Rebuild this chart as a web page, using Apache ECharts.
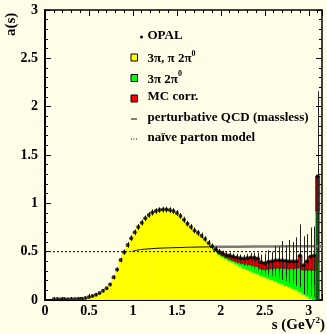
<!DOCTYPE html>
<html><head><meta charset="utf-8">
<script src="https://cdn.jsdelivr.net/npm/echarts@6/dist/echarts.min.js"></script>
<style>html,body{margin:0;padding:0;background:#fffde8}#c{width:327px;height:334px}</style>
</head><body><div id="c"></div>
<script>
// ---- data (s in GeV^2, bin centres, bin width 0.04) ----
const binCenters = [
 0.10,0.14,0.18,0.22,0.26,0.30,0.34,0.38,0.42,0.46,
 0.50,0.54,0.58,0.62,0.66,0.70,0.74,0.78,0.82,0.86,
 0.90,0.94,0.98,1.02,1.06,1.10,1.14,1.18,1.22,1.26,
 1.30,1.34,1.38,1.42,1.46,1.50,1.54,1.58,1.62,1.66,
 1.70,1.74,1.78,1.82,1.86,1.90,1.94,1.98,2.02,2.06,
 2.10,2.14,2.18,2.22,2.26,2.30,2.34,2.38,2.42,2.46,
 2.50,2.54,2.58,2.62,2.66,2.70,2.74,2.78,2.82,2.86,
 2.90,2.94,2.98,3.02,3.06,3.10];
const opal = [
 0.008,0.010,0.008,0.010,0.009,0.011,0.010,0.012,0.014,0.020,
 0.030,0.042,0.055,0.072,0.095,0.122,0.160,0.235,0.315,0.415,
 0.495,0.570,0.640,0.700,0.755,0.800,0.845,0.880,0.905,0.920,
 0.930,0.935,0.935,0.930,0.920,0.900,0.870,0.830,0.790,0.755,
 0.720,0.695,0.665,0.630,0.590,0.555,0.525,0.500,0.480,0.465,
 0.460,0.450,0.440,0.435,0.430,0.435,0.440,0.440,0.430,0.390,
 0.380,0.395,0.400,0.410,0.410,0.410,0.405,0.400,0.400,0.400,
 0.460,0.360,0.400,0.450,0.460,1.280];
const opalErr = [
 0.006,0.006,0.006,0.006,0.006,0.006,0.006,0.006,0.006,0.006,
 0.010,0.010,0.012,0.012,0.015,0.015,0.018,0.020,0.022,0.025,
 0.028,0.030,0.030,0.030,0.030,0.030,0.030,0.030,0.030,0.030,
 0.030,0.030,0.030,0.030,0.030,0.030,0.030,0.030,0.030,0.030,
 0.030,0.030,0.030,0.030,0.030,0.030,0.030,0.030,0.030,0.030,
 0.030,0.030,0.035,0.035,0.035,0.040,0.045,0.050,0.060,0.080,
 0.100,0.120,0.100,0.150,0.140,0.200,0.160,0.220,0.200,0.250,
 0.320,0.300,0.280,0.300,0.300,0.880];
const yellow3pi = [
 0.008,0.010,0.008,0.010,0.009,0.011,0.010,0.012,0.014,0.020,
 0.030,0.042,0.055,0.072,0.095,0.122,0.160,0.235,0.315,0.415,
 0.495,0.570,0.640,0.700,0.755,0.800,0.845,0.880,0.905,0.920,
 0.930,0.935,0.935,0.930,0.920,0.900,0.870,0.830,0.790,0.755,
 0.720,0.695,0.665,0.630,0.590,0.540,0.500,0.465,0.440,0.420,
 0.400,0.385,0.365,0.345,0.325,0.310,0.295,0.280,0.265,0.245,
 0.235,0.220,0.205,0.190,0.175,0.160,0.145,0.130,0.115,0.100,
 0.080,0.055,0.035,0.015,0.000,0.000];
const green3pi2pi0 = [
 0,0,0,0,0,0,0,0,0,0,
 0,0,0,0,0,0,0,0,0,0,
 0,0,0,0,0,0,0,0,0,0,
 0,0,0,0,0,0,0,0,0,0,
 0,0,0,0,0,0.010,0.015,0.020,0.020,0.020,
 0.025,0.025,0.030,0.040,0.050,0.060,0.070,0.075,0.080,0.080,
 0.080,0.100,0.120,0.140,0.155,0.170,0.180,0.195,0.210,0.230,
 0.250,0.255,0.275,0.295,0.310,0.920];
const mcCorr = [
 0,0,0,0,0,0,0,0,0,0,
 0,0,0,0,0,0,0,0,0,0,
 0,0,0,0,0,0,0,0,0,0,
 0,0,0,0,0,0,0,0,0,0,
 0,0,0,0,0,0.005,0.010,0.015,0.020,0.025,
 0.035,0.040,0.045,0.050,0.055,0.065,0.075,0.085,0.085,0.065,
 0.065,0.075,0.075,0.080,0.080,0.080,0.080,0.075,0.075,0.070,
 0.130,0.050,0.090,0.140,0.150,0.360];
const greenErr = [
 0,0,0,0,0,0,0,0,0,0,
 0,0,0,0,0,0,0,0,0,0,
 0,0,0,0,0,0,0,0,0,0,
 0,0,0,0,0,0,0,0,0,0,
 0,0,0,0,0,0,0,0,0,0,
 0.010,0.010,0.015,0.015,0.020,0.020,0.025,0.030,0.040,0.050,
 0.060,0.070,0.080,0.090,0.100,0.120,0.130,0.150,0.160,0.180,
 0.200,0.220,0.250,0.270,0.280,0];
const qcdS = [0.99,1.02,1.06,1.10,1.20,1.30,1.50,1.70,1.90,2.20,2.60,3.00,3.15];
const qcdA = [0.500,0.510,0.518,0.523,0.530,0.536,0.542,0.547,0.550,0.552,0.554,0.556,0.557];
const naiveS = [0, 3.15];
const naiveA = [0.5, 0.5];
const xTickLabels = ['0','0.5','1','1.5','2','2.5','3'];

// ---- chart ----
const HALF = 0.02;
const lastIdx = binCenters.length - 1;
const FONT = '"Liberation Serif","Times New Roman",serif';

const yellowData = binCenters.map((s,i)=>[s, 0, yellow3pi[i]]);
const greenData = binCenters.map((s,i)=>[s, yellow3pi[i], yellow3pi[i]+green3pi2pi0[i]]);
const redData = binCenters.map((s,i)=>[s, yellow3pi[i]+green3pi2pi0[i], yellow3pi[i]+green3pi2pi0[i]+mcCorr[i]]);
const greenErrData = binCenters.map((s,i)=>[s, yellow3pi[i]+green3pi2pi0[i], greenErr[i]]).filter((d,i)=>greenErr[i]>0);
const opalErrData = binCenters.map((s,i)=>[s, opal[i], opalErr[i]]);
const opalPts = binCenters.map((s,i)=>[s, opal[i]]);
const qcdBlack = qcdS.map((s,i)=>[s,qcdA[i]]).filter(d=>d[0]<=1.9);
const qcdGray = qcdS.map((s,i)=>[s,qcdA[i]]).filter(d=>d[0]>=1.9);
const naive = naiveS.map((s,i)=>[s,naiveA[i]]);

function boxSeries(name, data, fill, dark, stroke, z){
  return {type:'custom', name, z, data, encode:{x:0,y:[1,2]}, silent:true, clip:false,
    renderItem(params, api){
      const x=api.value(0), lo=api.value(1), hi=api.value(2);
      if(!(hi>lo)) return null;
      const a=api.coord([x-HALF,hi]), b=api.coord([x+HALF,lo]);
      const isLast = params.dataIndex===lastIdx;
      return {type:'rect', shape:{x:a[0]-0.3,y:a[1],width:b[0]-a[0]+0.6,height:b[1]-a[1]},
        style:{fill:isLast?dark:fill, stroke:stroke||null, lineWidth:stroke?0.6:0}};
    }};
}
// error bars: data items [s, centre, halfError]
function errSeries(name, data, color, width, z){
  return {type:'custom', name, z, data, encode:{x:0,y:1}, silent:true, clip:false,
    renderItem(params, api){
      const x=api.value(0), v=api.value(1), e=api.value(2);
      const a=api.coord([x,v-e]), b=api.coord([x,v+e]);
      const px=Math.round(a[0]);
      return {type:'rect', shape:{x:px-width/2+0.5, y:b[1], width:width, height:Math.max(a[1]-b[1],0.5)},
        style:{fill:color}};
    }};
}

const tickFont = {fontFamily:FONT, fontWeight:'bold', fontSize:14, color:'#000'};
function xAxisDef(pos, interval, len, showLine, showLabel){
  return {type:'value', min:0, max:3.15, interval, position:pos,
    axisLine:{show:showLine, onZero:false, lineStyle:{color:'#000', width:pos==='bottom'?2:1.5}},
    axisTick:{show:true, inside:true, length:len, lineStyle:{color:'#000', width:1}},
    axisLabel:{show:showLabel, margin:4, ...tickFont,
      formatter:v=>{const k=Math.round(v*2); return Math.abs(v*2-k)<1e-6 && k<=6 ? xTickLabels[k] : '';}},
    splitLine:{show:false}};
}
function yAxisDef(pos, showLabel){
  return {type:'value', min:0, max:3, interval:0.5, position:pos,
    axisLine:{show:true, onZero:false, lineStyle:{color:'#000', width:pos==='left'?2:1.5}},
    axisTick:{show:true, inside:true, length:6, lineStyle:{color:'#000', width:1}},
    minorTick:{show:true, splitNumber:5, length:3, lineStyle:{color:'#000', width:1}},
    axisLabel:{show:showLabel, margin:7, ...tickFont},
    splitLine:{show:false}};
}

const legendRows = [37, 57.5, 78, 98.5, 119, 139];
const LX = 131, TX = 147.5;
const legFont = {fontFamily:FONT, fontWeight:'bold', fontSize:13, fill:'#000'};
function legText(y, rich, text){
  return {type:'text', left:TX, top:y-8, silent:true,
    style:{text, ...legFont, rich}};
}
const supRich = {
  m:{fontFamily:FONT, fontWeight:'bold', fontSize:13, lineHeight:16, verticalAlign:'bottom'},
  s:{fontFamily:FONT, fontWeight:'bold', fontSize:8, lineHeight:16, verticalAlign:'top'}
};

const option = {
  backgroundColor:'#fffde8',
  animation:false,
  grid:{left:45, right:5, top:10, bottom:34, containLabel:false, outerBoundsMode:'none'},
  xAxis:[
    xAxisDef('bottom',0.5,6,true,true),
    xAxisDef('bottom',0.1,3,false,false),
    xAxisDef('top',0.5,6,true,false),
    xAxisDef('top',0.1,3,false,false)
  ],
  yAxis:[ yAxisDef('left',true), yAxisDef('right',false) ],
  series:[
    boxSeries('3π, π 2π0', yellowData, '#ffff00', '#ffff00', null, 1),
    boxSeries('3π 2π0', greenData, '#00ff00', '#0b5e0b', null, 2),
    errSeries('3π 2π0 err', greenErrData, '#0a7a0a', 1, 3),
    boxSeries('MC corr.', redData, '#ee0000', '#7a0a0a', '#600000', 4),
    {type:'line', name:'naive', data:naive, z:5, showSymbol:false, silent:true,
      lineStyle:{color:'#000', width:1, type:[2,2]}},
    {type:'line', name:'pQCD', data:qcdGray, z:5, showSymbol:false, smooth:true, silent:true,
      lineStyle:{color:'#7a7a72', width:2.5}},
    {type:'line', name:'pQCD', data:qcdBlack, z:5, showSymbol:false, smooth:true, silent:true,
      lineStyle:{color:'#000', width:1}},
    errSeries('OPAL err', opalErrData, '#222', 1, 6),
    {type:'scatter', name:'OPAL', data:opalPts, z:7, symbol:'circle', symbolSize:4, silent:true,
      itemStyle:{color:'#000'}}
  ],
  graphic:[
    {type:'text', silent:true, x:4, y:36, rotation:Math.PI/2,
      style:{text:'a(s)', fontFamily:FONT, fontWeight:'bold', fontSize:15, fill:'#000'}},
    {type:'text', silent:true, right:2, bottom:1,
      style:{text:'{m|s (GeV}{s|2}{m|)}', rich:{
        m:{fontFamily:FONT, fontWeight:'bold', fontSize:15, lineHeight:17, verticalAlign:'bottom'},
        s:{fontFamily:FONT, fontWeight:'bold', fontSize:9, lineHeight:17, verticalAlign:'top'}}}},
    // legend symbols
    {type:'circle', silent:true, shape:{cx:141.5, cy:legendRows[0], r:1.5}, style:{fill:'#000'}},
    {type:'rect', silent:true, shape:{x:LX, y:legendRows[1]-3.5, width:6.5, height:7}, style:{fill:'#ffff00', stroke:'#000', lineWidth:1}},
    {type:'rect', silent:true, shape:{x:LX, y:legendRows[2]-3.5, width:6.5, height:7}, style:{fill:'#00ff00', stroke:'#000', lineWidth:1}},
    {type:'rect', silent:true, shape:{x:LX, y:legendRows[3]-3.5, width:6.5, height:7}, style:{fill:'#ff0000', stroke:'#000', lineWidth:1}},
    {type:'line', silent:true, shape:{x1:LX, y1:legendRows[4], x2:LX+6, y2:legendRows[4]}, style:{stroke:'#000', lineWidth:1}},
    {type:'line', silent:true, shape:{x1:LX, y1:legendRows[5], x2:LX+6.5, y2:legendRows[5]}, style:{stroke:'#000', lineWidth:1, lineDash:[1,1.5]}},
    // legend texts
    legText(legendRows[0], null, 'OPAL'),
    legText(legendRows[1], supRich, '{m|3π, π 2π}{s|0}'),
    legText(legendRows[2], supRich, '{m|3π 2π}{s|0}'),
    legText(legendRows[3], null, 'MC corr.'),
    legText(legendRows[4], null, 'perturbative QCD (massless)'),
    legText(legendRows[5], null, 'naïve parton model')
  ]
};
const chart = echarts.init(document.getElementById('c'), null, {renderer:'canvas'});
chart.setOption(option);
</script></body></html>
